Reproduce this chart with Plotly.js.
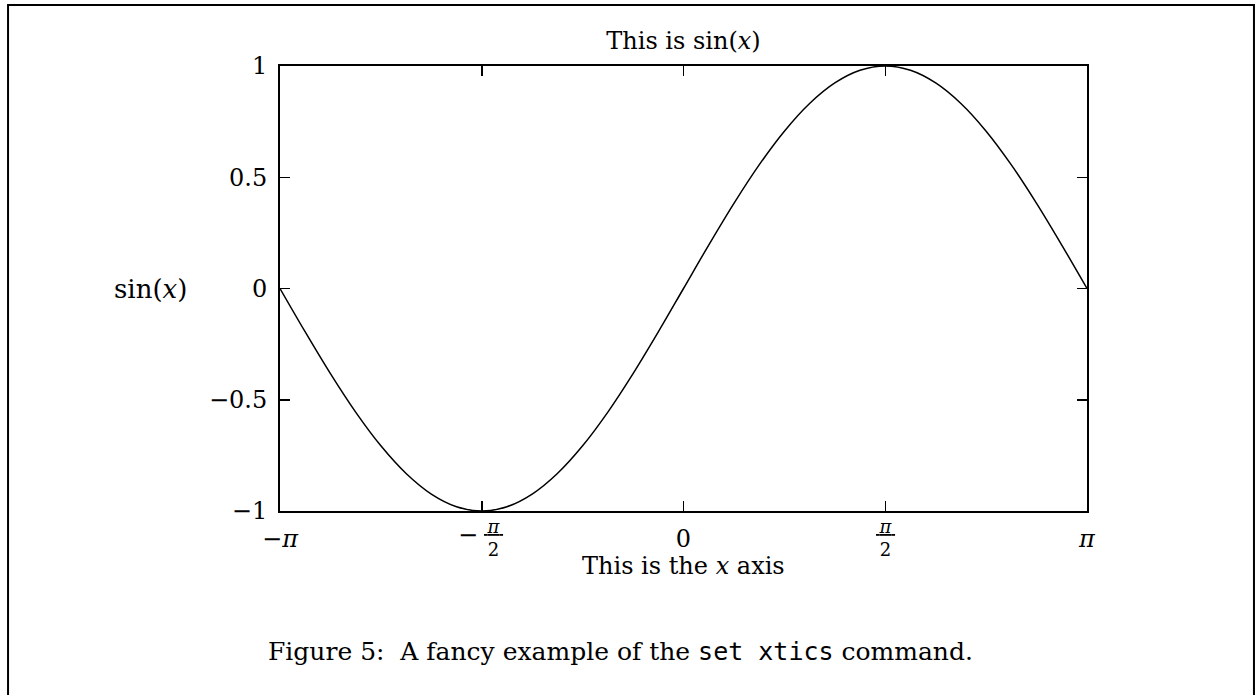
<!DOCTYPE html>
<html>
<head>
<meta charset="utf-8">
<script src="https://cdn.plot.ly/plotly-3.0.1.min.js"></script>
<style>
  html, body { margin: 0; padding: 0; background: #fff; }
  #chart { width: 1255px; height: 695px; }
</style>
</head>
<body>
<div id="chart"></div>
<script>
// sin(x) sampled every pi/16 on [-pi, pi]
const xValues = [
  -3.1416, -2.9452, -2.7489, -2.5525, -2.3562, -2.1598, -1.9635, -1.7671,
  -1.5708, -1.3744, -1.1781, -0.9817, -0.7854, -0.5890, -0.3927, -0.1963,
  0, 0.1963, 0.3927, 0.5890, 0.7854, 0.9817, 1.1781, 1.3744,
  1.5708, 1.7671, 1.9635, 2.1598, 2.3562, 2.5525, 2.7489, 2.9452, 3.1416,
];
const yValues = [
  0, -0.1951, -0.3827, -0.5556, -0.7071, -0.8315, -0.9239, -0.9808,
  -1, -0.9808, -0.9239, -0.8315, -0.7071, -0.5556, -0.3827, -0.1951,
  0, 0.1951, 0.3827, 0.5556, 0.7071, 0.8315, 0.9239, 0.9808,
  1, 0.9808, 0.9239, 0.8315, 0.7071, 0.5556, 0.3827, 0.1951, 0,
];

// x ticks: plain labels go on the axis, the fractions are stacked by hand
const xTickVals = [-3.14159265, -1.5707963, 0, 1.5707963, 3.14159265];
const xTickText = ["−<i>π</i>", "", "0", "", "<i>π</i>"];
const fracTickVals = [-1.5707963, 1.5707963];
const fracSigns = ["−", ""];
const fracNum = "<i>π</i>";
const fracDen = "2";

const yTickVals = [-1, -0.5, 0, 0.5, 1];
const yTickText = ["−1", "−0.5", "0", "0.5", "1"];

const serif = "DejaVu Serif, Liberation Serif, serif";
const mono = "DejaVu Sans Mono, Liberation Mono, monospace";

const traces = [
  {
    type: "scatter",
    mode: "lines",
    x: xValues,
    y: yValues,
    line: { color: "#000", width: 1.5, shape: "spline" },
    hoverinfo: "skip",
  },
];

const axisCommon = {
  showline: true,
  linecolor: "#000",
  linewidth: 2,
  mirror: "ticks",
  ticks: "inside",
  ticklen: 10,
  tickwidth: 1.5,
  tickcolor: "#000",
  showgrid: false,
  zeroline: false,
  tickfont: { family: serif, size: 24, color: "#000" },
};

const fracAnnotations = [];
fracTickVals.forEach((val, i) => {
  if (fracSigns[i]) {
    fracAnnotations.push({
      text: fracSigns[i],
      xref: "x", yref: "paper",
      x: val, y: -0.055,
      xanchor: "center", yanchor: "middle",
      xshift: -14,
      showarrow: false,
      font: { family: serif, size: 24, color: "#000" },
    });
  }
  fracAnnotations.push({
    text: "<u>\u2009" + fracNum + "\u2009</u><br>" + fracDen,
    xref: "x", yref: "paper",
    x: val, y: -0.06,
    xanchor: "center", yanchor: "middle",
    xshift: fracSigns[i] ? 12 : 0,
    showarrow: false,
    font: { family: serif, size: 18, color: "#000" },
  });
});

const layout = {
  width: 1255,
  height: 695,
  margin: { l: 280, r: 168, t: 66, b: 184 },
  paper_bgcolor: "#fff",
  plot_bgcolor: "#fff",
  showlegend: false,
  title: {
    text: "This is sin(<i>x</i>)",
    font: { family: serif, size: 24, color: "#000" },
    x: 0.5446,
    xanchor: "center",
    y: 0.942,
    yanchor: "middle",
  },
  xaxis: Object.assign({}, axisCommon, {
    range: [-3.14159265, 3.14159265],
    tickmode: "array",
    tickvals: xTickVals,
    ticktext: xTickText,
    ticklabelstandoff: 5,
  }),
  yaxis: Object.assign({}, axisCommon, {
    range: [-1, 1],
    tickmode: "array",
    tickvals: yTickVals,
    ticktext: yTickText,
    ticklabelstandoff: 6,
  }),
  annotations: [
    {
      text: "sin(<i>x</i>)",
      xref: "paper", yref: "paper",
      x: -0.161, y: 0.5,
      xanchor: "center", yanchor: "middle",
      showarrow: false,
      font: { family: serif, size: 26, color: "#000" },
    },
    {
      text: "This is the <i>x</i> axis",
      xref: "paper", yref: "paper",
      x: 0.5, y: -0.123,
      xanchor: "center", yanchor: "middle",
      showarrow: false,
      font: { family: serif, size: 24, color: "#000" },
    },
    {
      text: "Figure 5:  A fancy example of the <span style='font-family:" + mono + "'>set xtics</span> command.",
      xref: "paper", yref: "paper",
      x: 0.422, y: -0.315,
      xanchor: "center", yanchor: "middle",
      showarrow: false,
      font: { family: serif, size: 25, color: "#000" },
    },
  ].concat(fracAnnotations),
  shapes: [
    {
      type: "rect",
      xref: "paper", yref: "paper",
      x0: -0.337, x1: 1.2069,
      y0: -0.45, y1: 1.137,
      line: { color: "#000", width: 2 },
      layer: "below",
    },
  ],
};

Plotly.newPlot("chart", traces, layout, { displayModeBar: false, staticPlot: true });
</script>
</body>
</html>
